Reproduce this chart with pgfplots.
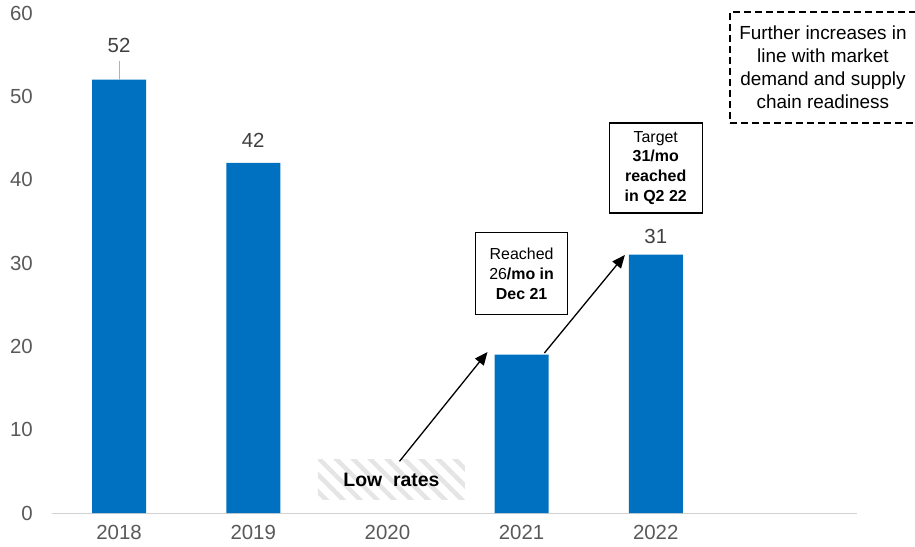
\documentclass[border=0pt]{standalone}
\usepackage{fontspec}
\setmainfont{Liberation Sans}
\usepackage{pgfplots}
\pgfplotsset{compat=1.18}
\usetikzlibrary{patterns.meta,arrows.meta}
\definecolor{barblue}{HTML}{0070C0}
\definecolor{ticktext}{HTML}{595959}
\definecolor{lbltext}{HTML}{404040}
\begin{document}
\begin{tikzpicture}
\useasboundingbox (-52bp,-34bp) rectangle (863bp,513bp);
\begin{axis}[
  at={(0,0)}, anchor=south west,
  scale only axis, width=805bp, height=500bp,
  xmin=-0.5, xmax=5.5, ymin=0, ymax=60,
  axis x line*=bottom, axis y line*=left,
  x axis line style={draw=gray!35, line width=1bp, -},
  y axis line style={draw=none},
  major tick length=0pt,
  xtick={0,1,2,3,4}, xticklabels={2018,2019,2020,2021,2022},
  ytick={0,10,...,60},
  tick label style={font=\fontsize{20.5}{24}\selectfont, text=ticktext},
  /pgf/number format/assume math mode=true,
  yticklabel style={anchor=east, inner sep=0pt, xshift=-19bp},
  xticklabel style={anchor=north, inner sep=0pt, yshift=-12bp},
  clip=false,
]
\addplot[ybar, bar width=54bp, fill=barblue, draw=none] coordinates {(0,52) (1,42) (3,19) (4,31)};

\draw[gray!60, line width=1bp] (axis cs:0,52) -- (axis cs:0,54.2);
\node[text=lbltext, font=\fontsize{20.5}{24}\selectfont] at (axis cs:0,56.16) {52};
\node[text=lbltext, font=\fontsize{20.5}{24}\selectfont] at (axis cs:1,44.76) {42};
\node[text=lbltext, font=\fontsize{20.5}{24}\selectfont] at (axis cs:4,33.24) {31};

\node[minimum width=147bp, minimum height=40bp, inner sep=0pt,
      pattern={Lines[angle=-45,distance=12bp,line width=4.5bp]}, pattern color=gray!20,
      font=\bfseries\fontsize{19.5}{22}\selectfont] at (axis cs:2.03,3.96) {Low\ \ rates};

\draw[-{Triangle[length=13bp,width=11bp]}, line width=1.3bp] (axis cs:2.09,6.2) -- (axis cs:2.746,19.32);
\draw[-{Triangle[length=13bp,width=11bp]}, line width=1.3bp] (axis cs:3.17,19.2) -- (axis cs:3.77,30.96);

\node[draw, line width=1.2bp, minimum width=92bp, minimum height=82bp, inner sep=0pt, align=center,
      font=\fontsize{16}{20}\selectfont] at (axis cs:3.0,28.7)
      {Reached\\26\textbf{/mo in}\\\textbf{Dec 21}};
\node[draw, line width=1.2bp, minimum width=93bp, minimum height=90bp, inner sep=0pt, align=center,
      font=\fontsize{16}{20}\selectfont] at (axis cs:4.0,41.4)
      {Target\\\textbf{31/mo}\\\textbf{reached}\\\textbf{in Q2 22}};
\node[draw, dash pattern=on 7bp off 4bp, line width=1.3bp, minimum width=186bp, minimum height=111bp,
      inner sep=0pt, align=center, font=\fontsize{19}{23}\selectfont] at (axis cs:5.246,53.46)
      {Further increases in\\line with market\\demand and supply\\chain readiness};
\end{axis}
\end{tikzpicture}
\end{document}
